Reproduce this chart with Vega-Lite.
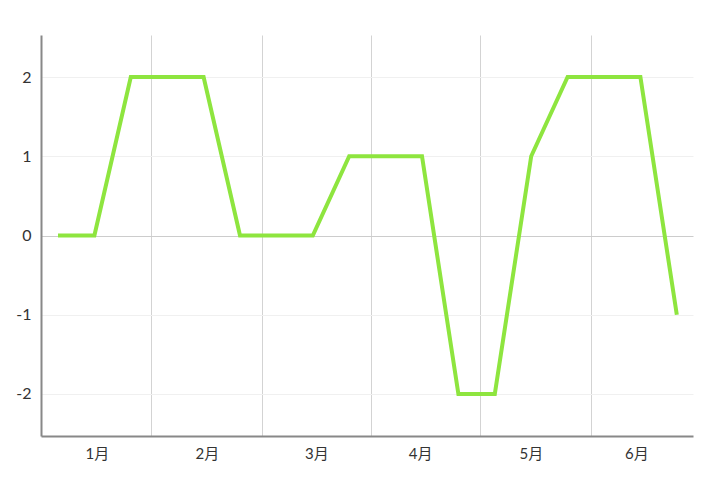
{
  "$schema": "https://vega.github.io/schema/vega-lite/v6.json",
  "width": 652,
  "height": 401,
  "autosize": {"type": "none"},
  "padding": {"left": 41, "top": 35, "right": 27, "bottom": 53},
  "background": "white",
  "config": {
    "view": {"stroke": null},
    "axis": {"labelFont": "Lato, Noto Sans CJK SC", "labelFontSize": 15, "labelColor": "#333333", "ticks": false}
  },
  "data": {
    "values": [
      {"period": 0, "value": 0},
      {"period": 1, "value": 0},
      {"period": 2, "value": 2},
      {"period": 3, "value": 2},
      {"period": 4, "value": 2},
      {"period": 5, "value": 0},
      {"period": 6, "value": 0},
      {"period": 7, "value": 0},
      {"period": 8, "value": 1},
      {"period": 9, "value": 1},
      {"period": 10, "value": 1},
      {"period": 11, "value": -2},
      {"period": 12, "value": -2},
      {"period": 13, "value": 1},
      {"period": 14, "value": 2},
      {"period": 15, "value": 2},
      {"period": 16, "value": 2},
      {"period": 17, "value": -1}
    ]
  },
  "layer": [
    {
      "mark": {"type": "line", "opacity": 0},
      "encoding": {
        "x": {
          "field": "period", "type": "quantitative",
          "scale": {"domain": [-0.467, 17.445], "nice": false, "zero": false},
          "axis": {"orient": "top", "values": [2.56, 5.6, 8.6, 11.6, 14.63], "labels": false, "domain": false, "ticks": false, "title": null, "grid": true, "gridColor": "#d3d3d3", "gridWidth": 1}
        },
        "y": {
          "field": "value", "type": "quantitative",
          "scale": {"domain": [-2.53, 2.53], "nice": false},
          "axis": {
            "values": [-2, -1, 0, 1, 2], "title": null, "domainColor": "#888888", "domainWidth": 2, "labelPadding": 10,
            "labelExpr": "datum.value + ''",
            "labelFontSize": 16, "labelFont": "Lato", "labelColor": "#333333",
            "grid": true, "gridWidth": 1,
            "gridColor": {"condition": {"test": "datum.value === 0", "value": "#cccccc"}, "value": "#f0f0f0"}
          }
        }
      }
    },
    {
      "mark": {"type": "line", "color": "#8ee53f", "strokeWidth": 4, "strokeJoin": "miter", "strokeCap": "butt"},
      "encoding": {
        "x": {
          "field": "period", "type": "quantitative",
          "scale": {"domain": [-0.467, 17.445], "nice": false, "zero": false},
          "axis": {
            "orient": "bottom", "values": [1.07, 4.09, 7.1, 9.95, 12.99, 15.89],
            "labelExpr": "round((datum.value - 1) / 3) + 1 + '月'",
            "labelFontSize": 15, "labelFont": "Lato, Noto Sans CJK SC", "labelColor": "#333333",
            "grid": false, "title": null, "domainColor": "#888888", "domainWidth": 2, "labelPadding": 10
          }
        },
        "y": {
          "field": "value", "type": "quantitative"
        }
      }
    }
  ],
  "resolve": {"axis": {"x": "independent"}}
}
